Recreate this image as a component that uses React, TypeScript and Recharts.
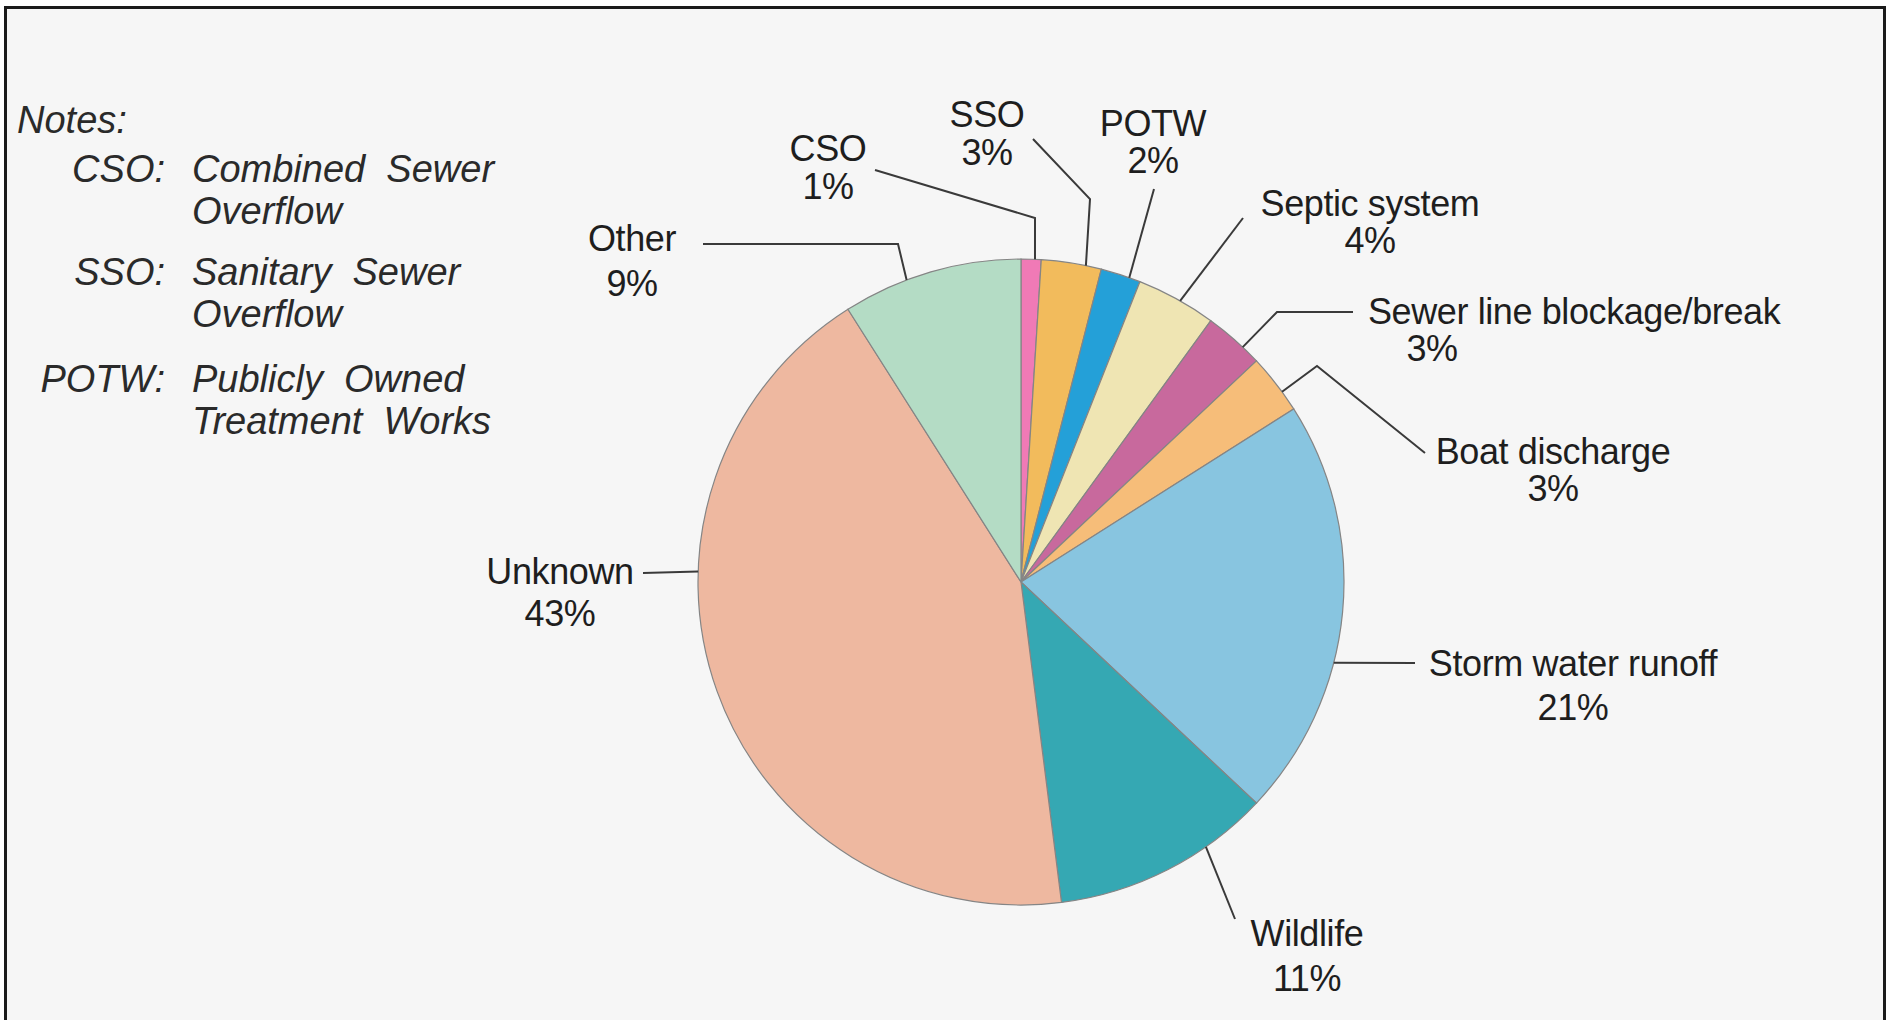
import { PieChart, Pie, Cell } from "recharts"

const categories = [
  "CSO",
  "SSO",
  "POTW",
  "Septic system",
  "Sewer line blockage/break",
  "Boat discharge",
  "Storm water runoff",
  "Wildlife",
  "Unknown",
  "Other",
]
const shares = [1, 3, 2, 4, 3, 3, 21, 11, 43, 9]
const colors = [
  "#f07ab6",
  "#f2bb5c",
  "#24a0d8",
  "#efe5b3",
  "#c8699d",
  "#f6bd79",
  "#88c5e0",
  "#35a8b3",
  "#eeb8a0",
  "#b4dcc5",
]

const noteAbbr = ["CSO:", "SSO:", "POTW:"]
const noteText = [
  ["Combined  Sewer", "Overflow"],
  ["Sanitary  Sewer", "Overflow"],
  ["Publicly  Owned", "Treatment  Works"],
]

const data = categories.map((name, i) => ({ name, value: shares[i] }))

// where each leader line leaves its slice (fraction of the slice, clockwise),
// then its bends and the text spot, all relative to the pie centre
const labelLayout: any[] = [
  { edge: 0.69, path: [[14, -364], [-146, -412]], x: -193, y: -421, y2: 38 },
  { edge: 0.74, path: [[69, -383], [12, -443]], x: -34, y: -455, y2: 38 },
  { edge: 0.72, path: [[133, -393]], x: 132, y: -446, y2: 37 },
  { edge: 0.55, path: [[222, -364]], x: 349, y: -366, y2: 37 },
  { edge: 0.68, path: [[256, -270], [332, -270]], x: 347, x2: 411, y: -258, y2: 37, anchor: "start" },
  { edge: 0.66, path: [[296, -216], [404, -129]], x: 532, y: -118, y2: 37 },
  { edge: 0.62, path: [[394, 81]], x: 552, y: 94, y2: 44 },
  { edge: 0.3, path: [[214, 337]], x: 286, y: 364, y2: 45 },
  { edge: 0.64, path: [[-378, -9]], x: -461, y: 2, y2: 42 },
  { edge: 0.36, path: [[-123, -338], [-318, -338]], x: -389, y: -331, y2: 45 },
]

const RADIAN = Math.PI / 180
const labelFont = "'Liberation Sans', Arial, Helvetica, sans-serif"

const renderLabel = (props: any) => {
  const { cx, cy, outerRadius, startAngle, endAngle, index, value } = props
  const l = labelLayout[index]
  const a = startAngle + (endAngle - startAngle) * l.edge
  const ex = cx + outerRadius * Math.cos(-a * RADIAN)
  const ey = cy + outerRadius * Math.sin(-a * RADIAN)
  const pts = [[ex, ey], ...l.path.map(([dx, dy]: number[]) => [cx + dx, cy + dy])]
  const anchor = l.anchor || "middle"
  const x2 = l.x2 !== undefined ? l.x2 : l.x
  return (
    <g key={`label-${index}`}>
      <polyline
        points={pts.map((p) => p.join(",")).join(" ")}
        fill="none"
        stroke="#3a3a3a"
        strokeWidth={2}
      />
      <text
        x={cx + l.x}
        y={cy + l.y}
        textAnchor={anchor}
        fill="#1e1e1e"
        fontSize={36}
        fontFamily={labelFont}
        letterSpacing={-0.4}
      >
        {categories[index]}
      </text>
      <text
        x={cx + x2}
        y={cy + l.y + l.y2}
        textAnchor={anchor === "start" && l.x2 === undefined ? "start" : "middle"}
        fill="#1e1e1e"
        fontSize={36}
        fontFamily={labelFont}
        letterSpacing={-0.4}
      >
        {value}%
      </text>
    </g>
  )
}

export default function App() {
  const noteStyle = {
    fontSize: 38,
    fontStyle: "italic" as const,
    fontFamily: labelFont,
    fill: "#2a2a2a",
    whiteSpace: "pre" as const,
  }
  return (
    <div
      style={{
        position: "absolute",
        left: 0,
        top: 0,
        width: 1887,
        height: 1020,
        overflow: "hidden",
        background: "#ffffff",
      }}
    >
      <div
        style={{
          position: "absolute",
          left: 4,
          top: 6,
          width: 1882,
          height: 1100,
          border: "3px solid #1a1a1a",
          boxSizing: "border-box",
          background: "#f6f6f6",
        }}
      />
      <svg
        width={1887}
        height={1020}
        style={{ position: "absolute", left: 0, top: 0 }}
      >
        <text x={17} y={133} style={noteStyle}>
          Notes:
        </text>
        {noteAbbr.map((abbr, i) => {
          const base = [182, 285, 392][i]
          return (
            <g key={abbr}>
              <text x={165} y={base} textAnchor="end" style={noteStyle}>
                {abbr}
              </text>
              <text x={192} y={base} style={noteStyle}>
                {noteText[i][0]}
              </text>
              <text x={192} y={base + 42} style={noteStyle}>
                {noteText[i][1]}
              </text>
            </g>
          )
        })}
      </svg>
      <div style={{ position: "absolute", left: 0, top: 0 }}>
        <PieChart width={1887} height={1020}>
          <Pie
            data={data}
            dataKey="value"
            nameKey="name"
            cx={1016}
            cy={577}
            outerRadius={323}
            startAngle={90}
            endAngle={-270}
            stroke="#858585"
            strokeWidth={1.2}
            label={renderLabel}
            labelLine={false}
            isAnimationActive={false}
          >
            {data.map((entry, index) => (
              <Cell key={`cell-${index}`} fill={colors[index]} />
            ))}
          </Pie>
        </PieChart>
      </div>
    </div>
  )
}
